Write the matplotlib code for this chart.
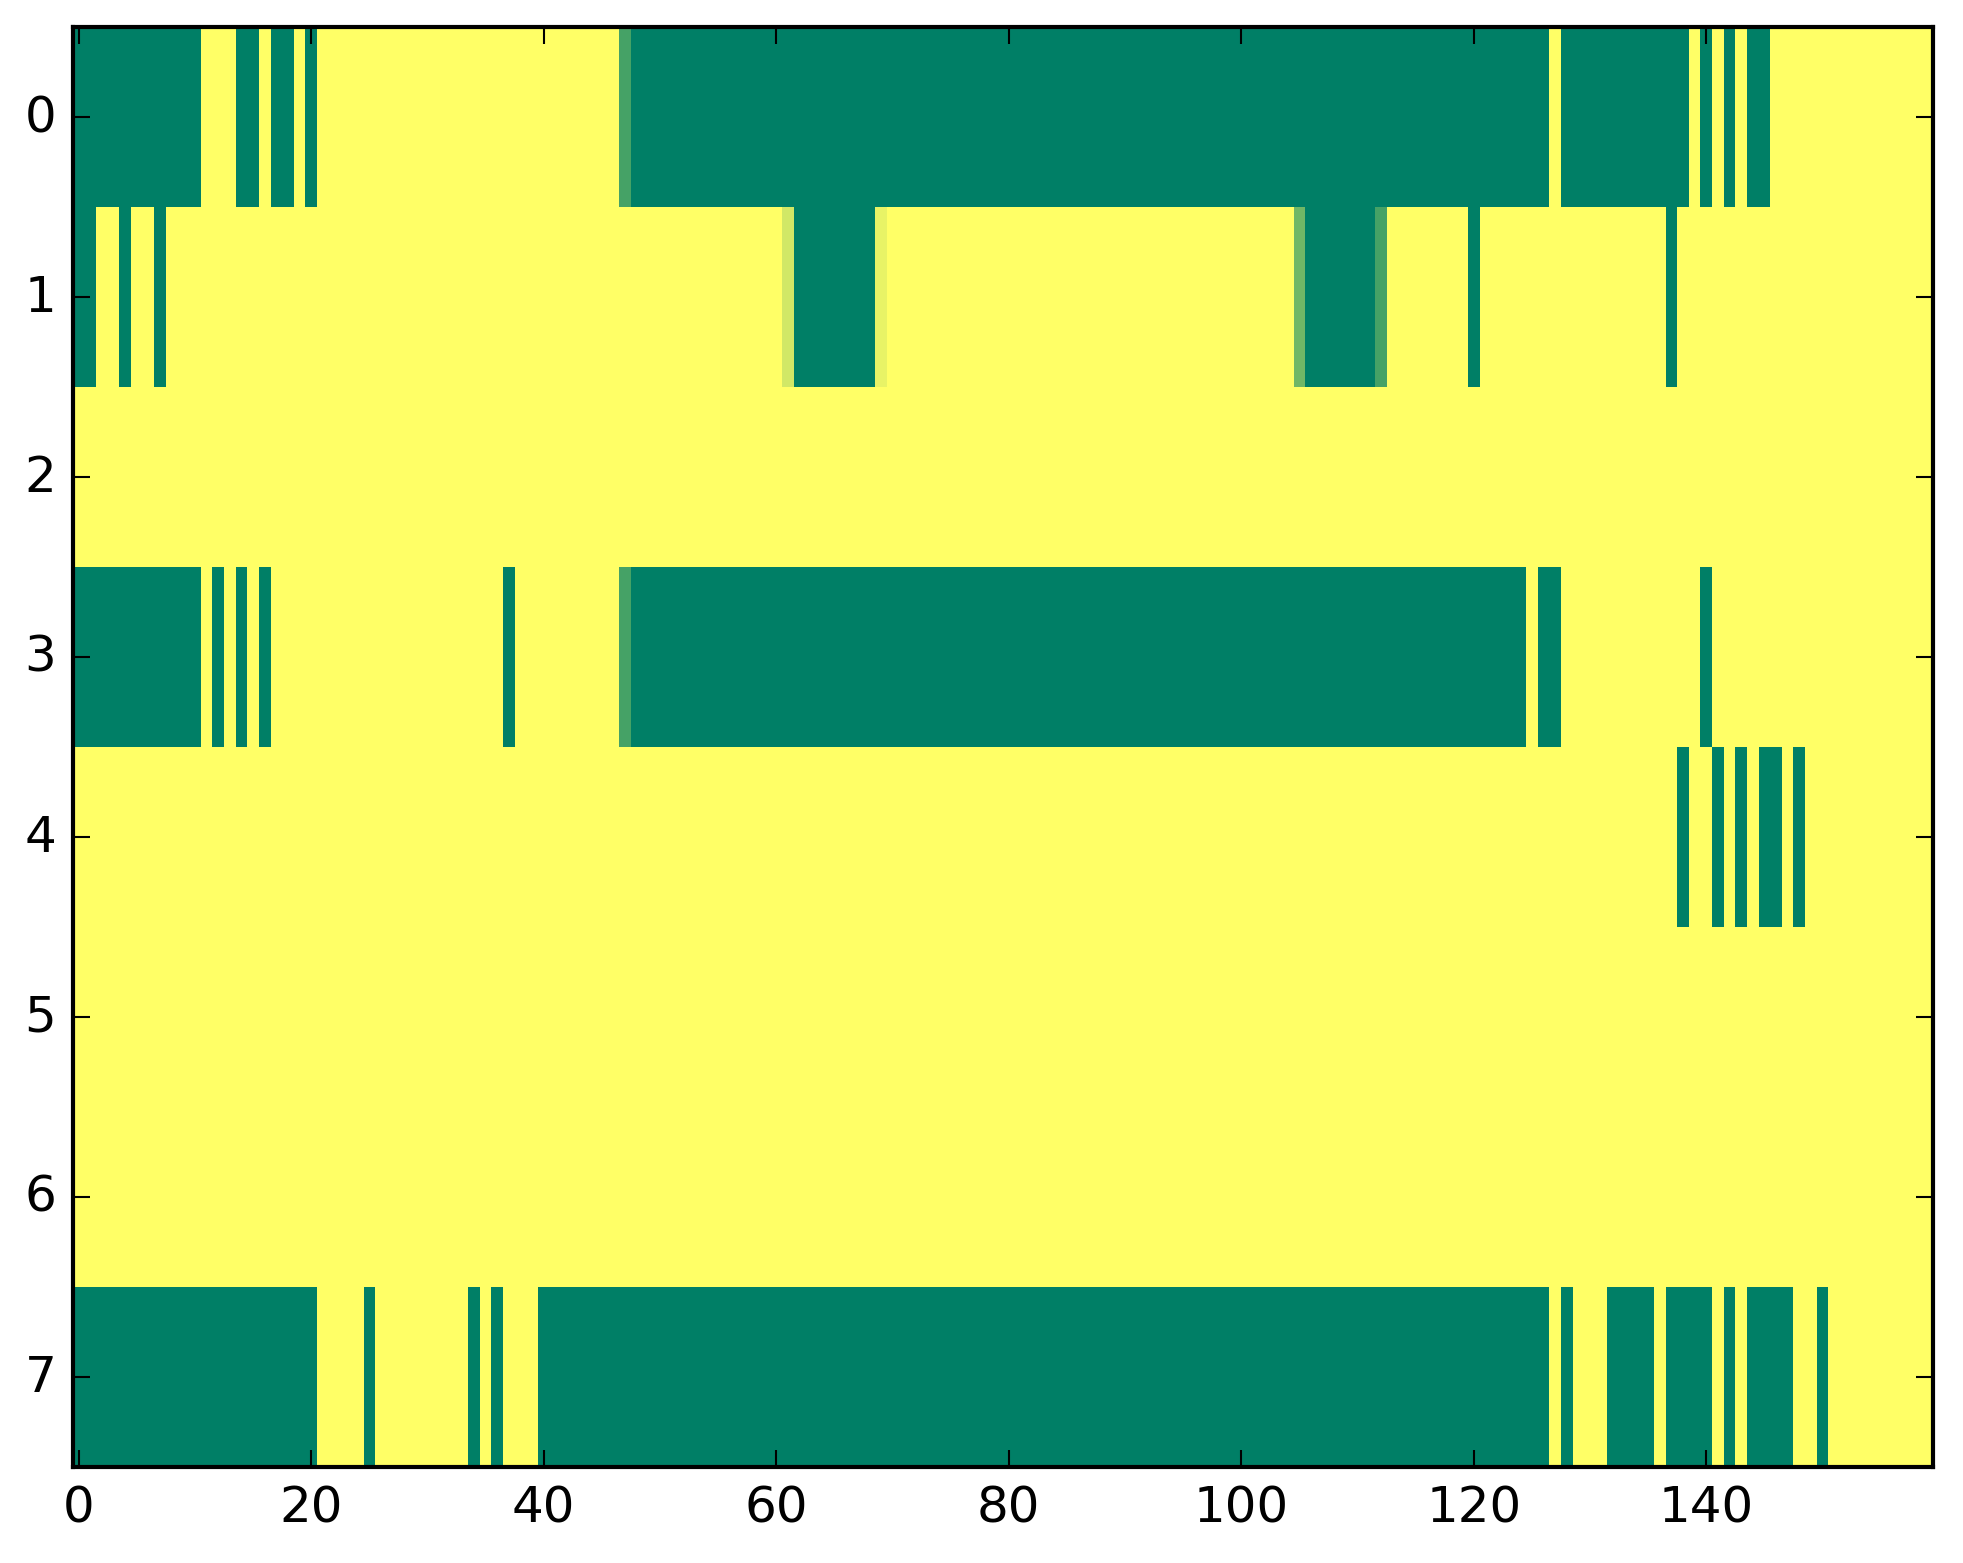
import numpy as np
import matplotlib
matplotlib.use('Agg')
import matplotlib.pyplot as plt


# ==============================================================================
# DADOS: 8 linhas x 160 colunas, 0 = verde, 1 = amarelo
# ==============================================================================
n_rows = 8
n_cols = 160

# trechos verdes (coluna inicial, coluna final inclusive) por linha
green_row0 = [(0, 10), (14, 15), (17, 18), (20, 20), (48, 126), (128, 138),
              (140, 140), (142, 142), (144, 145)]
green_row1 = [(0, 1), (4, 4), (7, 7), (62, 68), (106, 111), (120, 120), (137, 137)]
green_row2 = []
green_row3 = [(0, 10), (12, 12), (14, 14), (16, 16), (37, 37), (48, 124),
              (126, 127), (140, 140)]
green_row4 = [(138, 138), (141, 141), (143, 143), (145, 146), (148, 148)]
green_row5 = []
green_row6 = []
green_row7 = [(0, 20), (25, 25), (34, 34), (36, 36), (40, 126), (128, 128),
              (132, 135), (137, 140), (142, 142), (144, 147), (150, 150)]

# celulas com valores intermediarios (linha, coluna, valor)
partial_cells = [(0, 47, 0.27), (1, 61, 0.82), (1, 69, 0.91), (1, 105, 0.44),
                 (1, 112, 0.27), (3, 47, 0.27)]

x_ticks = [0, 20, 40, 60, 80, 100, 120, 140]
y_ticks = [0, 1, 2, 3, 4, 5, 6, 7]


# ==============================================================================
# MONTAGEM DA MATRIZ
# ==============================================================================
green_runs = [green_row0, green_row1, green_row2, green_row3,
              green_row4, green_row5, green_row6, green_row7]

grid = np.ones((n_rows, n_cols))
for r, runs in enumerate(green_runs):
    for c0, c1 in runs:
        grid[r, c0:c1 + 1] = 0.0
for r, c, v in partial_cells:
    grid[r, c] = v


# ==============================================================================
# GRAFICO
# ==============================================================================
plt.style.use('classic')
plt.rcParams['font.family'] = ['DejaVu Sans']

fig = plt.figure(figsize=(1963 / 300, 1564 / 300), dpi=300, facecolor='white')
ax = fig.add_axes([73 / 1963, 1 - 1468 / 1564, 1860 / 1963, 1440 / 1564])

ax.imshow(grid, cmap='summer', vmin=0, vmax=1, aspect='auto',
          interpolation='nearest')

ax.set_xticks(x_ticks)
ax.set_yticks(y_ticks)
ax.set_xlim(-0.5, n_cols - 0.5)
ax.set_ylim(n_rows - 0.5, -0.5)
ax.tick_params(labelsize=12)

fig.savefig('out.png', dpi=300, facecolor='white')
